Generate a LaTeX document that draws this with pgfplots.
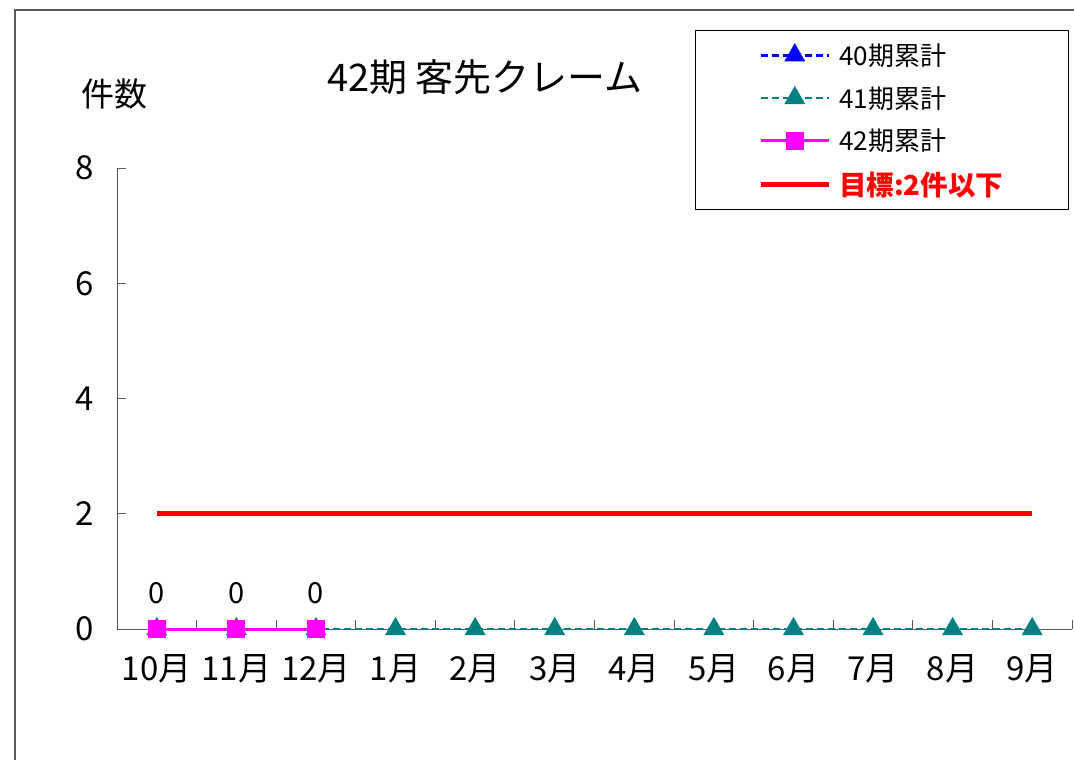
\documentclass[border=0pt]{standalone}
\usepackage{fontspec}
\setmainfont{Noto Sans CJK JP}
\usepackage{pgfplots}
\pgfplotsset{compat=1.18}
\definecolor{tealA}{RGB}{0,128,128}
\definecolor{magA}{RGB}{255,0,255}
\definecolor{blueA}{RGB}{0,0,255}
\definecolor{redA}{RGB}{255,0,0}
\definecolor{axgray}{RGB}{90,90,90}
\begin{document}
\begin{tikzpicture}
\path[use as bounding box] (0pt,0pt) rectangle (1074pt,-760pt);
\draw[axgray, line width=1.2pt] (15pt,-760pt) -- (15pt,-10pt) -- (1074pt,-10pt);
\draw[axgray, line width=1pt] (117pt,-629pt) -- (1072pt,-629pt);
\node[font=\fontsize{38}{44}\selectfont] at (485pt,-77pt) {42期 客先クレーム};
\node[font=\fontsize{33}{38}\selectfont] at (114pt,-94pt) {件数};
\begin{axis}[
  at={(117pt,-629pt)}, anchor=south west,
  scale only axis, width=955pt, height=461pt,
  xmin=-0.5, xmax=11.5, ymin=0, ymax=8,
  axis x line=bottom, axis y line=left,
  axis line style={-, axgray, line width=1pt},
  x axis line style={draw=none},
  xtick={0,...,11},
  xticklabels={10月,11月,12月,1月,2月,3月,4月,5月,6月,7月,8月,9月},
  major x tick style={draw=none},
  minor xtick={-0.5,0.5,...,11.5},
  ytick={0,2,4,6,8},
  tick align=inside,
  major tick length=9pt, minor tick length=9pt,
  tick style={axgray, line width=1pt},
  /pgf/number format/assume math mode=true,
  xticklabel style={font=\fontsize{33}{38}\selectfont, yshift=-22pt},
  yticklabel style={font=\fontsize{33}{38}\selectfont, xshift=-20pt},
  clip=false,
  legend style={at={(axis description cs:0.605,1.299)}, anchor=north west,
    draw=black, line width=1pt, inner xsep=63pt, inner ysep=11pt,
    row sep=15.5pt,
    /tikz/every odd column/.append style={column sep=6pt},
    font=\fontsize{26}{30}\selectfont, cells={anchor=west}},
  legend image code/.code={\draw[mark repeat=2,mark phase=2] plot coordinates {(0pt,0pt)(34pt,0pt)(68pt,0pt)};},
]
\addlegendimage{blueA, line width=2.6pt, dash pattern=on 7pt off 4pt, mark=triangle*, mark size=9.5pt, mark options={solid, fill=blueA}}
\addlegendentry{40期累計}
\addplot[tealA, line width=2.6pt, dash pattern=on 7pt off 4pt, mark=triangle*, mark size=9.5pt, mark options={solid, fill=tealA}]
  coordinates {(0,0)(1,0)(2,0)(3,0)(4,0)(5,0)(6,0)(7,0)(8,0)(9,0)(10,0)(11,0)};
\addlegendentry{41期累計}
\addplot[magA, line width=3pt, mark=square*, mark size=7.5pt, mark options={solid, fill=magA},
  nodes near coords, every node near coord/.append style={text=black, font=\fontsize{29}{34}\selectfont, anchor=center, yshift=36pt}]
  coordinates {(0,0)(1,0)(2,0)};
\addlegendentry{42期累計}
\addplot[redA, line width=5pt, no marks]
  coordinates {(0,2)(1,2)(2,2)(3,2)(4,2)(5,2)(6,2)(7,2)(8,2)(9,2)(10,2)(11,2)};
\addlegendentry{\fontsize{27.5}{30}\selectfont\textcolor{redA}{\textbf{目標:2件以下}}}
\end{axis}
\end{tikzpicture}
\end{document}
